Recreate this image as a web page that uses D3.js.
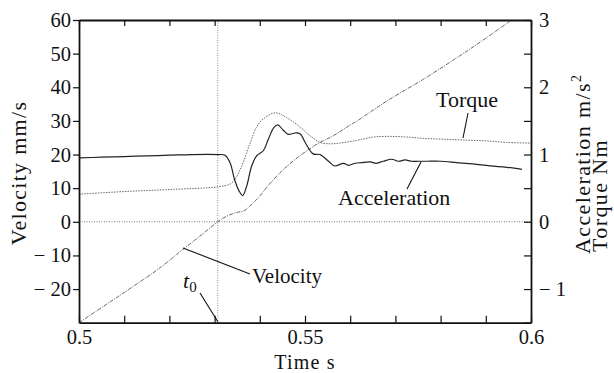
<!DOCTYPE html>
<html>
<head>
<meta charset="utf-8">
<script src="https://cdn.jsdelivr.net/npm/d3@7"></script>
<style>
  body { margin: 0; background: #fff; }
  svg text { font-family: "Liberation Serif", "Times New Roman", "DejaVu Serif", serif; fill: #111; }
</style>
</head>
<body>
<svg id="chart" width="614" height="373"></svg>
<script>
// time s, velocity mm/s
var velocity = [[0.500,-30],[0.506,-24.6],[0.512,-19.2],[0.518,-13.6],[0.5229,-8.3],[0.527,-4.0],
  [0.5307,0],[0.5327,1.7],[0.535,2.8],[0.5364,3.2],[0.5378,4.7],[0.5397,7.2],[0.5415,10.2],
  [0.5445,14.6],[0.5474,18.1],[0.5504,21.1],[0.5533,23.6],[0.5563,25.6],[0.5592,28.1],
  [0.5622,30.6],[0.5681,35.9],[0.5762,42.4],[0.5872,52.0],[0.5957,60]];

// time s, acceleration m/s^2
var acceleration = [[0.500,0.95],[0.505,0.96],[0.510,0.97],[0.515,0.98],[0.520,0.99],[0.525,1.0],
  [0.5307,1.0],[0.5323,0.99],[0.5334,0.88],[0.5345,0.61],[0.5354,0.46],[0.5362,0.39],
  [0.5371,0.53],[0.5382,0.83],[0.5393,0.98],[0.5408,1.06],[0.5419,1.23],[0.5431,1.40],
  [0.5440,1.44],[0.5452,1.36],[0.5463,1.30],[0.5478,1.32],[0.5489,1.31],[0.5502,1.16],
  [0.5518,1.01],[0.5533,1.00],[0.5552,0.90],[0.5566,0.83],[0.5585,0.87],[0.5596,0.84],
  [0.5611,0.87],[0.5625,0.88],[0.5644,0.89],[0.5658,0.87],[0.5673,0.90],[0.5692,0.93],
  [0.5707,0.90],[0.5721,0.92],[0.5736,0.90],[0.5751,0.90],[0.577,0.90],[0.580,0.90],
  [0.5836,0.88],[0.5872,0.86],[0.5909,0.83],[0.5946,0.81],[0.598,0.78]];

// time s, torque Nm
var torque = [[0.500,0.41],[0.510,0.45],[0.520,0.48],[0.5307,0.52],[0.5334,0.56],[0.5345,0.63],
  [0.5360,0.83],[0.5378,1.16],[0.5393,1.41],[0.5408,1.53],[0.5434,1.62],[0.5459,1.55],
  [0.5489,1.41],[0.5511,1.28],[0.5533,1.18],[0.5555,1.16],[0.5577,1.17],[0.5614,1.21],
  [0.5651,1.26],[0.5688,1.27],[0.5725,1.26],[0.5762,1.24],[0.5799,1.23],[0.5836,1.22],
  [0.5872,1.21],[0.5909,1.20],[0.5946,1.18],[0.600,1.17]];

var t0 = 0.5307;

var xTicks = d3.range(0, 11).map(i => 0.5 + i * 0.01);
var xLabels = [0.5, 0.55, 0.6];
var leftTicks = [-20, -10, 0, 10, 20, 30, 40, 50, 60];
var rightTicks = [-1.5, -1, -0.5, 0, 0.5, 1, 1.5, 2, 2.5, 3];
var rightLabels = [-1, 0, 1, 2, 3];

var serif = '"Liberation Serif", "Times New Roman", "DejaVu Serif", serif';

var svg = d3.select("#chart");

var x = d3.scaleLinear().domain([0.5, 0.6]).range([79, 531]);
var yL = d3.scaleLinear().domain([-30, 60]).range([322.7, 20]);
var yR = d3.scaleLinear().domain([-1.5, 3]).range([322.7, 20]);

var minus = d => d < 0 ? "\u2212 " + Math.abs(d) : String(d);

// reference lines
svg.append("line")
    .attr("x1", x(0.5)).attr("x2", x(0.6))
    .attr("y1", yL(0)).attr("y2", yL(0))
    .attr("stroke", "#777").attr("stroke-width", 1)
    .attr("stroke-dasharray", "1,1.5");
svg.append("line")
    .attr("x1", x(t0)).attr("x2", x(t0))
    .attr("y1", yL(60)).attr("y2", yL(-30))
    .attr("stroke", "#888").attr("stroke-width", 1)
    .attr("stroke-dasharray", "1,1.5");

// curves
var lineL = d3.line().x(d => x(d[0])).y(d => yL(d[1])).curve(d3.curveCatmullRom);
var lineR = d3.line().x(d => x(d[0])).y(d => yR(d[1])).curve(d3.curveCatmullRom);

svg.append("path").datum(velocity)
    .attr("d", lineL).attr("fill", "none")
    .attr("stroke", "#555").attr("stroke-width", 0.9)
    .attr("stroke-dasharray", "4,1.2,1,1.2");
svg.append("path").datum(torque)
    .attr("d", lineR).attr("fill", "none")
    .attr("stroke", "#666").attr("stroke-width", 1)
    .attr("stroke-dasharray", "1.5,1.2");
svg.append("path").datum(acceleration)
    .attr("d", lineR).attr("fill", "none")
    .attr("stroke", "#222").attr("stroke-width", 1.2);

// axes
var axisBottom = svg.append("g").attr("transform", "translate(0," + yL(-30) + ")")
    .call(d3.axisBottom(x).tickValues(xTicks).tickSizeInner(-7).tickSizeOuter(0).tickPadding(7)
        .tickFormat(d => xLabels.some(v => Math.abs(v - d) < 1e-9) ? String(+d.toFixed(2)) : ""));
var axisTop = svg.append("g").attr("transform", "translate(0," + yL(60) + ")")
    .call(d3.axisTop(x).tickValues(xTicks).tickSizeInner(-6).tickSizeOuter(0).tickFormat(""));
var axisLeft = svg.append("g").attr("transform", "translate(" + x(0.5) + ",0)")
    .call(d3.axisLeft(yL).tickValues(leftTicks).tickSizeInner(6).tickSizeOuter(0).tickPadding(2)
        .tickFormat(minus));
var axisRight = svg.append("g").attr("transform", "translate(" + x(0.6) + ",0)")
    .call(d3.axisRight(yR).tickValues(rightTicks).tickSizeInner(-7).tickSizeOuter(0).tickPadding(8)
        .tickFormat(d => rightLabels.indexOf(d) >= 0 ? minus(d) : ""));

[axisBottom, axisTop, axisLeft, axisRight].forEach(function(g) {
  g.attr("font-family", serif).attr("font-size", 20.5);
  g.select(".domain").attr("stroke", "#111").attr("stroke-width", 1.8);
  g.selectAll(".tick line").attr("stroke", "#111").attr("stroke-width", 1.2);
  g.selectAll(".tick text").attr("fill", "#111");
});

// axis titles
svg.append("text")
    .attr("transform", "translate(26,173) rotate(-90)")
    .attr("text-anchor", "middle")
    .style("font-size", "22px").style("letter-spacing", "1.3px")
    .text("Velocity mm/s");

var accTitle = svg.append("text")
    .attr("transform", "translate(590,254) rotate(-90)")
    .attr("text-anchor", "start")
    .style("font-size", "22px").style("letter-spacing", "1.4px")
    .text("Acceleration m/s");
accTitle.append("tspan").attr("dy", -9).style("font-size", "14px").text("2");

svg.append("text")
    .attr("transform", "translate(607,252) rotate(-90)")
    .attr("text-anchor", "start")
    .style("font-size", "22px").style("letter-spacing", "1.4px")
    .text("Torque Nm");

svg.append("text")
    .attr("x", 305).attr("y", 369)
    .attr("text-anchor", "middle")
    .style("font-size", "20px").style("letter-spacing", "1.2px")
    .text("Time s");

// in-plot annotations
var notes = svg.append("g").attr("stroke", "#111").attr("stroke-width", 1.1);
notes.append("line").attr("x1", 183).attr("y1", 248).attr("x2", 250).attr("y2", 274);
notes.append("line").attr("x1", 200).attr("y1", 293).attr("x2", 218).attr("y2", 322);
notes.append("line").attr("x1", 468).attr("y1", 113).attr("x2", 463).attr("y2", 138);
notes.append("line").attr("x1", 421).attr("y1", 162).attr("x2", 407).attr("y2", 189);

svg.append("text").attr("x", 252).attr("y", 283)
    .style("font-size", "21px").text("Velocity");
svg.append("text").attr("x", 436).attr("y", 107)
    .style("font-size", "22px").text("Torque");
svg.append("text").attr("x", 338).attr("y", 205)
    .style("font-size", "22px").text("Acceleration");

var t0Label = svg.append("text").attr("x", 183).attr("y", 288)
    .style("font-size", "22px").style("font-style", "italic").text("t");
t0Label.append("tspan").attr("dy", 4).style("font-size", "15px").style("font-style", "normal").text("0");
</script>
</body>
</html>
